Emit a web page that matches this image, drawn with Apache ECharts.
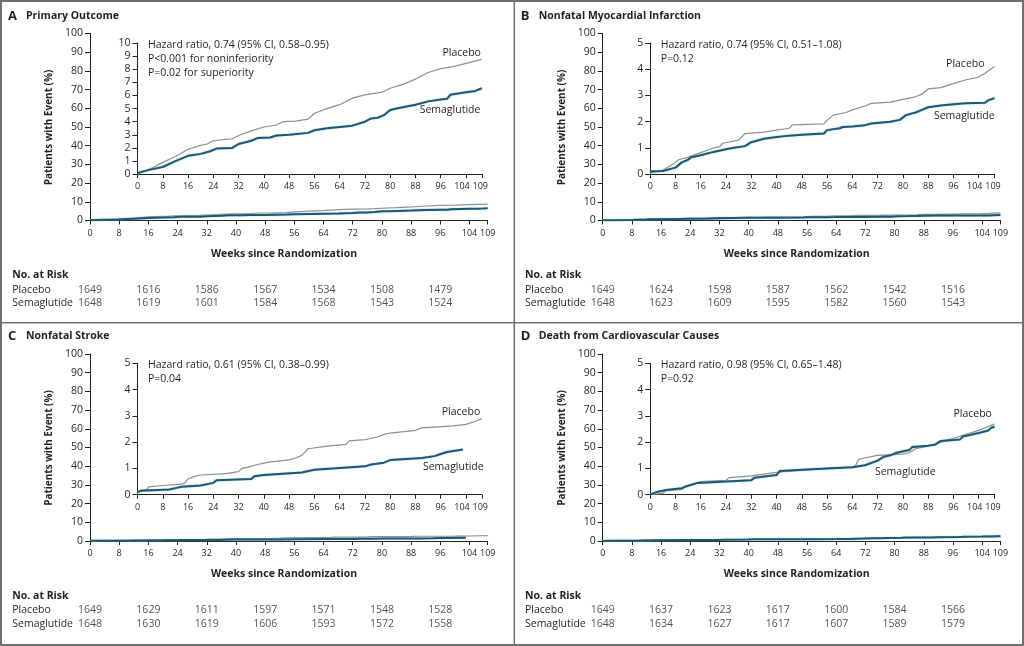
<!DOCTYPE html>
<html>
<head>
<meta charset="utf-8">
<script src="https://cdn.jsdelivr.net/npm/echarts@6/dist/echarts.min.js"></script>
<style>
  html, body { margin:0; padding:0; background:#fff; }
  #chart { width:1024px; height:646px; }
</style>
</head>
<body>
<div id="chart"></div>
<script>
// tick labels
var weekTicks = [0, 8, 16, 24, 32, 40, 48, 56, 64, 72, 80, 88, 96, 104, 109];
var riskWeeks = [0, 16, 32, 48, 64, 80, 96];

// A  primary outcome  ([week, %])
var primaryPlacebo = [[0,0],[4,0.4],[8,0.9],[12,1.35],[16,1.9],[20,2.2],[22,2.3],[24,2.55],[28,2.65],[30,2.7],[32,2.95],[36,3.3],[40,3.6],[44,3.75],[46,4.0],[50,4.05],[54,4.2],[56,4.65],[60,5.0],[64,5.3],[68,5.8],[72,6.05],[76,6.2],[78,6.3],[80,6.55],[84,6.85],[88,7.25],[90,7.5],[92,7.75],[96,8.05],[100,8.2],[104,8.45],[109,8.75]];
var primarySema = [[0,0.1],[4,0.35],[8,0.55],[12,1.0],[16,1.4],[20,1.55],[23,1.75],[25,1.95],[30,2.0],[32,2.3],[36,2.55],[38,2.75],[42,2.8],[44,2.95],[48,3.0],[54,3.15],[56,3.35],[60,3.5],[64,3.6],[68,3.7],[72,4.0],[74,4.25],[76,4.3],[78,4.5],[80,4.9],[82,5.0],[84,5.1],[88,5.3],[92,5.55],[96,5.7],[98,5.75],[99,6.05],[104,6.25],[107,6.35],[109,6.55]];
var primaryRiskPlacebo = [1649, 1616, 1586, 1567, 1534, 1508, 1479];
var primaryRiskSema = [1648, 1619, 1601, 1584, 1568, 1543, 1524];

// B  nonfatal MI
var miPlacebo = [[0,0.05],[4,0.15],[8,0.45],[9,0.55],[12,0.65],[16,0.82],[20,1.0],[22,1.05],[23,1.18],[28,1.3],[30,1.55],[36,1.6],[40,1.68],[44,1.75],[45,1.88],[55,1.92],[56,2.05],[58,2.25],[62,2.35],[64,2.45],[68,2.6],[70,2.7],[76,2.75],[80,2.85],[84,2.95],[86,3.05],[88,3.25],[92,3.3],[96,3.45],[100,3.6],[104,3.7],[106,3.85],[109,4.1]];
var miSema = [[0,0.1],[4,0.12],[8,0.25],[10,0.45],[12,0.55],[13,0.65],[16,0.72],[20,0.85],[24,0.95],[26,1.0],[30,1.07],[32,1.22],[36,1.35],[40,1.42],[44,1.47],[48,1.5],[55,1.55],[56,1.68],[60,1.75],[61,1.8],[64,1.82],[68,1.87],[70,1.93],[76,2.0],[79,2.07],[81,2.25],[84,2.35],[86,2.45],[88,2.55],[92,2.62],[96,2.67],[100,2.7],[106,2.72],[107,2.82],[109,2.9]];
var miRiskPlacebo = [1649, 1624, 1598, 1587, 1562, 1542, 1516];
var miRiskSema = [1648, 1623, 1609, 1595, 1582, 1560, 1543];

// C  nonfatal stroke
var strokePlacebo = [[0,0.1],[3,0.2],[3.5,0.3],[8,0.35],[14,0.4],[15,0.45],[16,0.6],[18,0.7],[20,0.75],[28,0.8],[32,0.88],[33,1.0],[35,1.05],[38,1.15],[42,1.25],[46,1.3],[48,1.33],[50,1.4],[52,1.5],[53,1.62],[54,1.75],[60,1.85],[66,1.92],[67,2.05],[72,2.1],[76,2.2],[78,2.3],[80,2.35],[88,2.45],[90,2.55],[100,2.62],[104,2.68],[107,2.8],[109,2.9]];
var strokeSema = [[0,0.1],[1,0.15],[10,0.2],[12,0.25],[14,0.3],[20,0.35],[24,0.45],[25,0.55],[36,0.6],[37,0.7],[40,0.75],[46,0.8],[52,0.85],[56,0.95],[64,1.02],[72,1.08],[74,1.15],[78,1.22],[80,1.32],[90,1.4],[94,1.47],[96,1.55],[98,1.63],[103,1.72]];
var strokeRiskPlacebo = [1649, 1629, 1611, 1597, 1571, 1548, 1528];
var strokeRiskSema = [1648, 1630, 1619, 1606, 1593, 1572, 1558];

// D  death from CV causes
var cvPlacebo = [[0,0],[4,0.05],[5,0.15],[10,0.2],[11,0.3],[16,0.5],[24,0.55],[25,0.65],[32,0.72],[40,0.85],[44,0.9],[48,0.93],[56,1.0],[64,1.05],[65,1.1],[66,1.35],[70,1.45],[72,1.5],[80,1.55],[82,1.6],[84,1.75],[88,1.85],[90,1.9],[93,2.05],[96,2.15],[100,2.3],[104,2.45],[107,2.6],[109,2.7]];
var cvSema = [[0,0],[2,0.1],[4,0.15],[5,0.18],[10,0.25],[11,0.3],[15,0.45],[24,0.5],[32,0.55],[33,0.65],[40,0.75],[41,0.9],[48,0.95],[56,1.0],[64,1.05],[68,1.12],[72,1.3],[74,1.45],[76,1.5],[78,1.6],[82,1.7],[83,1.82],[88,1.87],[90,1.9],[92,2.05],[98,2.1],[99,2.22],[104,2.35],[107,2.45],[108,2.55],[109,2.6]];
var cvRiskPlacebo = [1649, 1637, 1623, 1617, 1600, 1584, 1566];
var cvRiskSema = [1648, 1634, 1627, 1617, 1607, 1589, 1579];

var FONT = '"Open Sans", "Noto Sans", sans-serif';
var INK = '#231f20';
var GRAY = '#8e8e8e';
var TEAL = '#1b5877';

var panels = [
  {letter:'A', title:'Primary Outcome', ox:0, oy:0, insetMax:10,
   hr:['Hazard ratio, 0.74 (95% CI, 0.58\u20130.95)', 'P<0.001 for noninferiority', 'P=0.02 for superiority'],
   placebo:primaryPlacebo, sema:primarySema, riskP:primaryRiskPlacebo, riskS:primaryRiskSema,
   pLab:[461.7, 53.3], sLab:[450, 110]},
  {letter:'B', title:'Nonfatal Myocardial Infarction', ox:512.7, oy:0, insetMax:5,
   hr:['Hazard ratio, 0.74 (95% CI, 0.51\u20131.08)', 'P=0.12'],
   placebo:miPlacebo, sema:miSema, riskP:miRiskPlacebo, riskS:miRiskSema,
   pLab:[452.6, 64.3], sLab:[451.6, 116]},
  {letter:'C', title:'Nonfatal Stroke', ox:0, oy:320.5, insetMax:5,
   hr:['Hazard ratio, 0.61 (95% CI, 0.38\u20130.99)', 'P=0.04'],
   placebo:strokePlacebo, sema:strokeSema, riskP:strokeRiskPlacebo, riskS:strokeRiskSema,
   pLab:[461, 92], sLab:[453.3, 147]},
  {letter:'D', title:'Death from Cardiovascular Causes', ox:512.7, oy:320.5, insetMax:5,
   hr:['Hazard ratio, 0.98 (95% CI, 0.65\u20131.48)', 'P=0.92'],
   placebo:cvPlacebo, sema:cvSema, riskP:cvRiskPlacebo, riskS:cvRiskSema,
   pLab:[460, 93.2], sLab:[392.6, 151.8]}
];

var grids = [], xAxes = [], yAxes = [], series = [], graphics = [];

function axisX(gi, inset) {
  return {
    type:'value', gridIndex:gi, min:0, max:109,
    axisLine:{show:true, lineStyle:{color:INK, width:1}},
    axisTick:{show:true, length:4, lineStyle:{color:INK}, customValues:weekTicks},
    axisLabel:{show:true, margin:8, color:INK, fontFamily:FONT, fontSize:9,
      showMinLabel:true, showMaxLabel:true, hideOverlap:false, customValues:weekTicks,
      formatter:function (v) {
        if (inset && v === 104) return '{l|104}';
        if (inset && v === 109) return '{r|109}';
        return String(v);
      },
      rich:{
        l:{fontFamily:FONT, fontSize:9, color:INK, padding:[0, 8, 0, 0]},
        r:{fontFamily:FONT, fontSize:9, color:INK, padding:[0, 3, 0, 0]}
      }},
    splitLine:{show:false}
  };
}
function axisY(gi, max, interval) {
  return {
    type:'value', gridIndex:gi, min:0, max:max, interval:interval,
    axisLine:{show:true, lineStyle:{color:INK, width:1}},
    axisTick:{show:true, length:5, lineStyle:{color:INK}},
    axisLabel:{margin:7, color:INK, fontFamily:FONT, fontSize:10.5},
    splitLine:{show:false}
  };
}
function txt(x, y, text, opt) {
  opt = opt || {};
  graphics.push({
    type:'text', x:x, y:y, rotation:opt.rot || 0, silent:true,
    style:{text:text, fill:INK, font:(opt.bold ? 'bold ' : '') + (opt.size || 10.5) + 'px ' + FONT,
           textAlign:opt.align || 'left', textVerticalAlign:'middle'}
  });
}

panels.forEach(function (p) {
  var ox = p.ox, oy = p.oy;
  var g0 = grids.length;
  // main, inset, risk table
  grids.push({left:90 + ox, top:33.5 + oy, width:397.7, height:187});
  grids.push({left:137.5 + ox, top:43 + oy, width:344.3, height:131.2});
  grids.push({left:90 + ox, top:283.3 + oy, width:397.7, height:26.7});

  xAxes.push(axisX(g0, false));
  xAxes.push(axisX(g0 + 1, true));
  xAxes.push({type:'value', gridIndex:g0 + 2, min:0, max:109, show:false});
  yAxes.push(axisY(g0, 100, 10));
  yAxes.push(axisY(g0 + 1, p.insetMax, 1));
  yAxes.push({type:'category', gridIndex:g0 + 2, data:['Placebo', 'Semaglutide'], inverse:true,
    axisLine:{show:false}, axisTick:{show:false},
    axisLabel:{interval:0, align:'left', margin:77.7, color:INK, fontFamily:FONT, fontSize:10.5}});

  [g0, g0 + 1].forEach(function (ai) {
    series.push({type:'line', xAxisIndex:ai, yAxisIndex:ai, data:p.placebo, symbol:'none',
      lineStyle:{color:GRAY, width:1.2}, z:2});
    series.push({type:'line', xAxisIndex:ai, yAxisIndex:ai, data:p.sema, symbol:'none',
      lineStyle:{color:TEAL, width:2, shadowColor:'rgba(110,180,205,0.7)', shadowBlur:1.5}, z:3});
  });

  var rows = [];
  riskWeeks.forEach(function (w, i) {
    rows.push([w, 'Placebo', p.riskP[i]]);
    rows.push([w, 'Semaglutide', p.riskS[i]]);
  });
  series.push({type:'scatter', xAxisIndex:g0 + 2, yAxisIndex:g0 + 2, data:rows, symbolSize:1,
    itemStyle:{color:'rgba(0,0,0,0)'},
    label:{show:true, position:'inside', color:INK, fontFamily:FONT, fontSize:10.5,
      formatter:function (d) { return d.value[2]; }}});

  // text
  txt(8 + ox, 16 + oy, p.letter, {bold:true, size:13});
  txt(26 + ox, 16 + oy, p.title, {bold:true, size:10.5});
  p.hr.forEach(function (line, i) {
    txt(148 + ox, 45 + oy + i * 13.8, line, {size:10.5});
  });
  txt(p.pLab[0] + ox, p.pLab[1] + oy, 'Placebo', {align:'center'});
  txt(p.sLab[0] + ox, p.sLab[1] + oy, 'Semaglutide', {align:'center'});
  txt(49 + ox, 127.5 + oy, 'Patients with Event (%)', {bold:true, size:10, align:'center', rot:Math.PI / 2});
  txt(284 + ox, 254 + oy, 'Weeks since Randomization', {bold:true, size:10.5, align:'center'});
  txt(12.3 + ox, 275.3 + oy, 'No. at Risk', {bold:true, size:10.5});
});

// frame and dividers
graphics.push({type:'rect', silent:true, shape:{x:1, y:1, width:1022, height:644},
  style:{fill:'none', stroke:'#6f6f6f', lineWidth:2}});
graphics.push({type:'line', silent:true, shape:{x1:514.3, y1:0, x2:514.3, y2:646},
  style:{stroke:'#6f6f6f', lineWidth:1.5}});
graphics.push({type:'line', silent:true, shape:{x1:0, y1:322.7, x2:1024, y2:322.7},
  style:{stroke:'#6f6f6f', lineWidth:1.5}});

var chart = echarts.init(document.getElementById('chart'));
chart.setOption({
  animation:false,
  backgroundColor:'#fff',
  grid:grids,
  xAxis:xAxes,
  yAxis:yAxes,
  series:series,
  graphic:graphics
});
</script>
</body>
</html>
